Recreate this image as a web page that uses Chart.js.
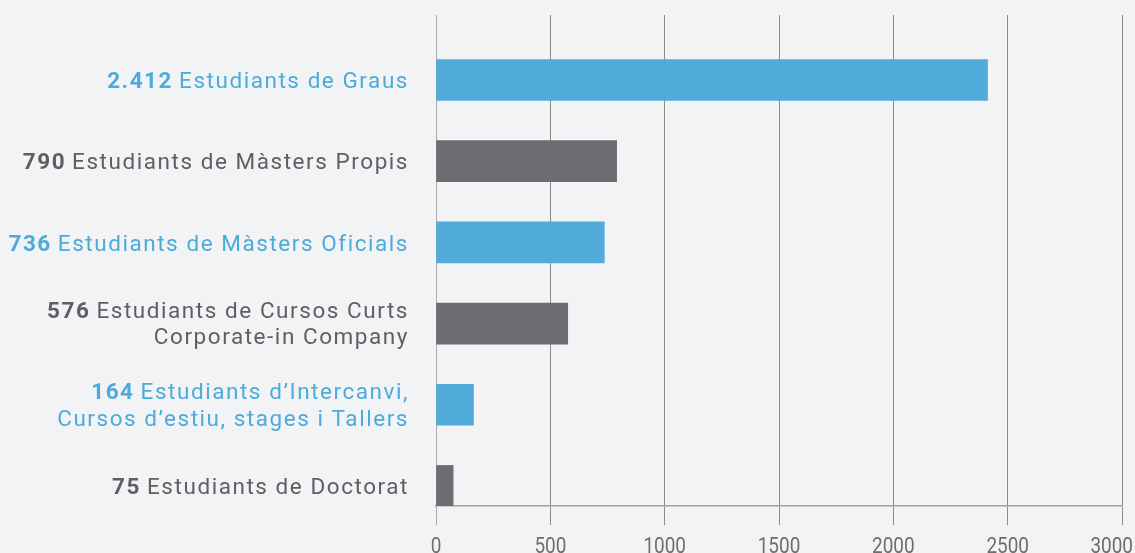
<!DOCTYPE html>
<html>
<head>
<meta charset="utf-8">
<script src="https://cdn.jsdelivr.net/npm/chart.js@4"></script>
<style>
html,body{margin:0;padding:0;background:#f2f3f5;}
#wrap{width:1135px;height:553px;position:relative;}
</style>
</head>
<body>
<div id="wrap"><canvas id="c" width="1135" height="553"></canvas></div>
<script>
const counts = ['2.412', '790', '736', '576', '164', '75'];
const labelLines = [
  ['Estudiants de Graus'],
  ['Estudiants de Màsters Propis'],
  ['Estudiants de Màsters Oficials'],
  ['Estudiants de Cursos Curts', 'Corporate-in Company'],
  ['Estudiants d’Intercanvi,', 'Cursos d’estiu, stages i Tallers'],
  ['Estudiants de Doctorat']
];
const values = [2412, 790, 736, 576, 164, 75];
const xTicks = [0, 500, 1000, 1500, 2000, 2500, 3000];
const xTickLabels = ['0', '500', '1000', '1500', '2000', '2500', '3000'];

const BLUE = '#51acd9';
const GRAY = '#6c6d71';
const barColors = values.map((v, i) => i % 2 === 0 ? BLUE : GRAY);
const textColors = values.map((v, i) => i % 2 === 0 ? '#4dabd9' : '#5e5f63');

const LABEL_FONT = 'Roboto, "DejaVu Sans", sans-serif';
const LABEL_SIZE = 22.5;

const labelPlugin = {
  id: 'catLabels',
  afterDatasetsDraw(chart) {
    const ctx = chart.ctx;
    const ys = chart.scales.y;
    const xs = chart.scales.x;
    const right = 409;
    ctx.save();
    ctx.textBaseline = 'alphabetic';
    ctx.textAlign = 'right';
    if ('letterSpacing' in ctx) ctx.letterSpacing = '1.55px';
    for (let i = 0; i < values.length; i++) {
      const cy = ys.getPixelForValue(i);
      const lines = labelLines[i];
      const n = lines.length;
      const offs = n === 1 ? [8.3] : [-5.5, 20.8];
      ctx.fillStyle = textColors[i];
      for (let k = 0; k < n; k++) {
        const y = cy + offs[k];
        ctx.font = '400 ' + LABEL_SIZE + 'px ' + LABEL_FONT;
        ctx.fillText(lines[k], right, y);
        if (k === 0) {
          const w = ctx.measureText(lines[k]).width;
          const gap = 6;
          ctx.font = '700 ' + LABEL_SIZE + 'px ' + LABEL_FONT;
          ctx.fillText(counts[i], right - w - gap, y);
        }
      }
    }
    ctx.restore();

    // x tick labels (condensed look)
    ctx.save();
    ctx.font = '400 22px ' + LABEL_FONT;
    ctx.fillStyle = '#6e6e70';
    ctx.textBaseline = 'alphabetic';
    ctx.textAlign = 'center';
    const sx = 0.86;
    for (let j = 0; j < xTicks.length; j++) {
      let x = xs.getPixelForValue(xTicks[j]);
      const w = ctx.measureText(xTickLabels[j]).width * sx;
      if (x + w / 2 > 1133) x = 1133 - w / 2;
      ctx.save();
      ctx.translate(x, 553);
      ctx.scale(sx, 1);
      ctx.fillText(xTickLabels[j], 0, 0);
      ctx.restore();
    }
    ctx.restore();
  }
};

new Chart(document.getElementById('c'), {
  type: 'bar',
  data: {
    datasets: [{
      data: values.map((v, i) => ({ x: v, y: i })),
      backgroundColor: barColors,
      borderWidth: 0,
      barThickness: 41
    }]
  },
  options: {
    indexAxis: 'y',
    responsive: false,
    animation: false,
    layout: { padding: { left: 436, right: 13, top: 15, bottom: 0 } },
    plugins: { legend: { display: false }, tooltip: { enabled: false } },
    scales: {
      x: {
        type: 'linear',
        min: 0,
        max: 3000,
        afterBuildTicks(scale) { scale.ticks = xTicks.map(v => ({ value: v })); },
        afterFit(scale) { scale.paddingLeft = 0; scale.paddingRight = 0; scale.height = 47; },
        grid: {
          color: ctx => ctx.tick && ctx.tick.value === 0 ? '#ababab' : '#8a8a8a',
          lineWidth: 1,
          drawTicks: true,
          tickLength: 19,
          tickColor: ctx => ctx.tick && ctx.tick.value === 0 ? '#ababab' : '#8a8a8a'
        },
        border: { display: true, color: '#a0a0a0', width: 1.5 },
        ticks: { display: false }
      },
      y: {
        type: 'linear',
        reverse: true,
        offset: false,
        beginAtZero: false,
        min: -0.8,
        max: 5.247,
        display: false,
        grid: { display: false }
      }
    }
  },
  plugins: [labelPlugin]
});
</script>
</body>
</html>
